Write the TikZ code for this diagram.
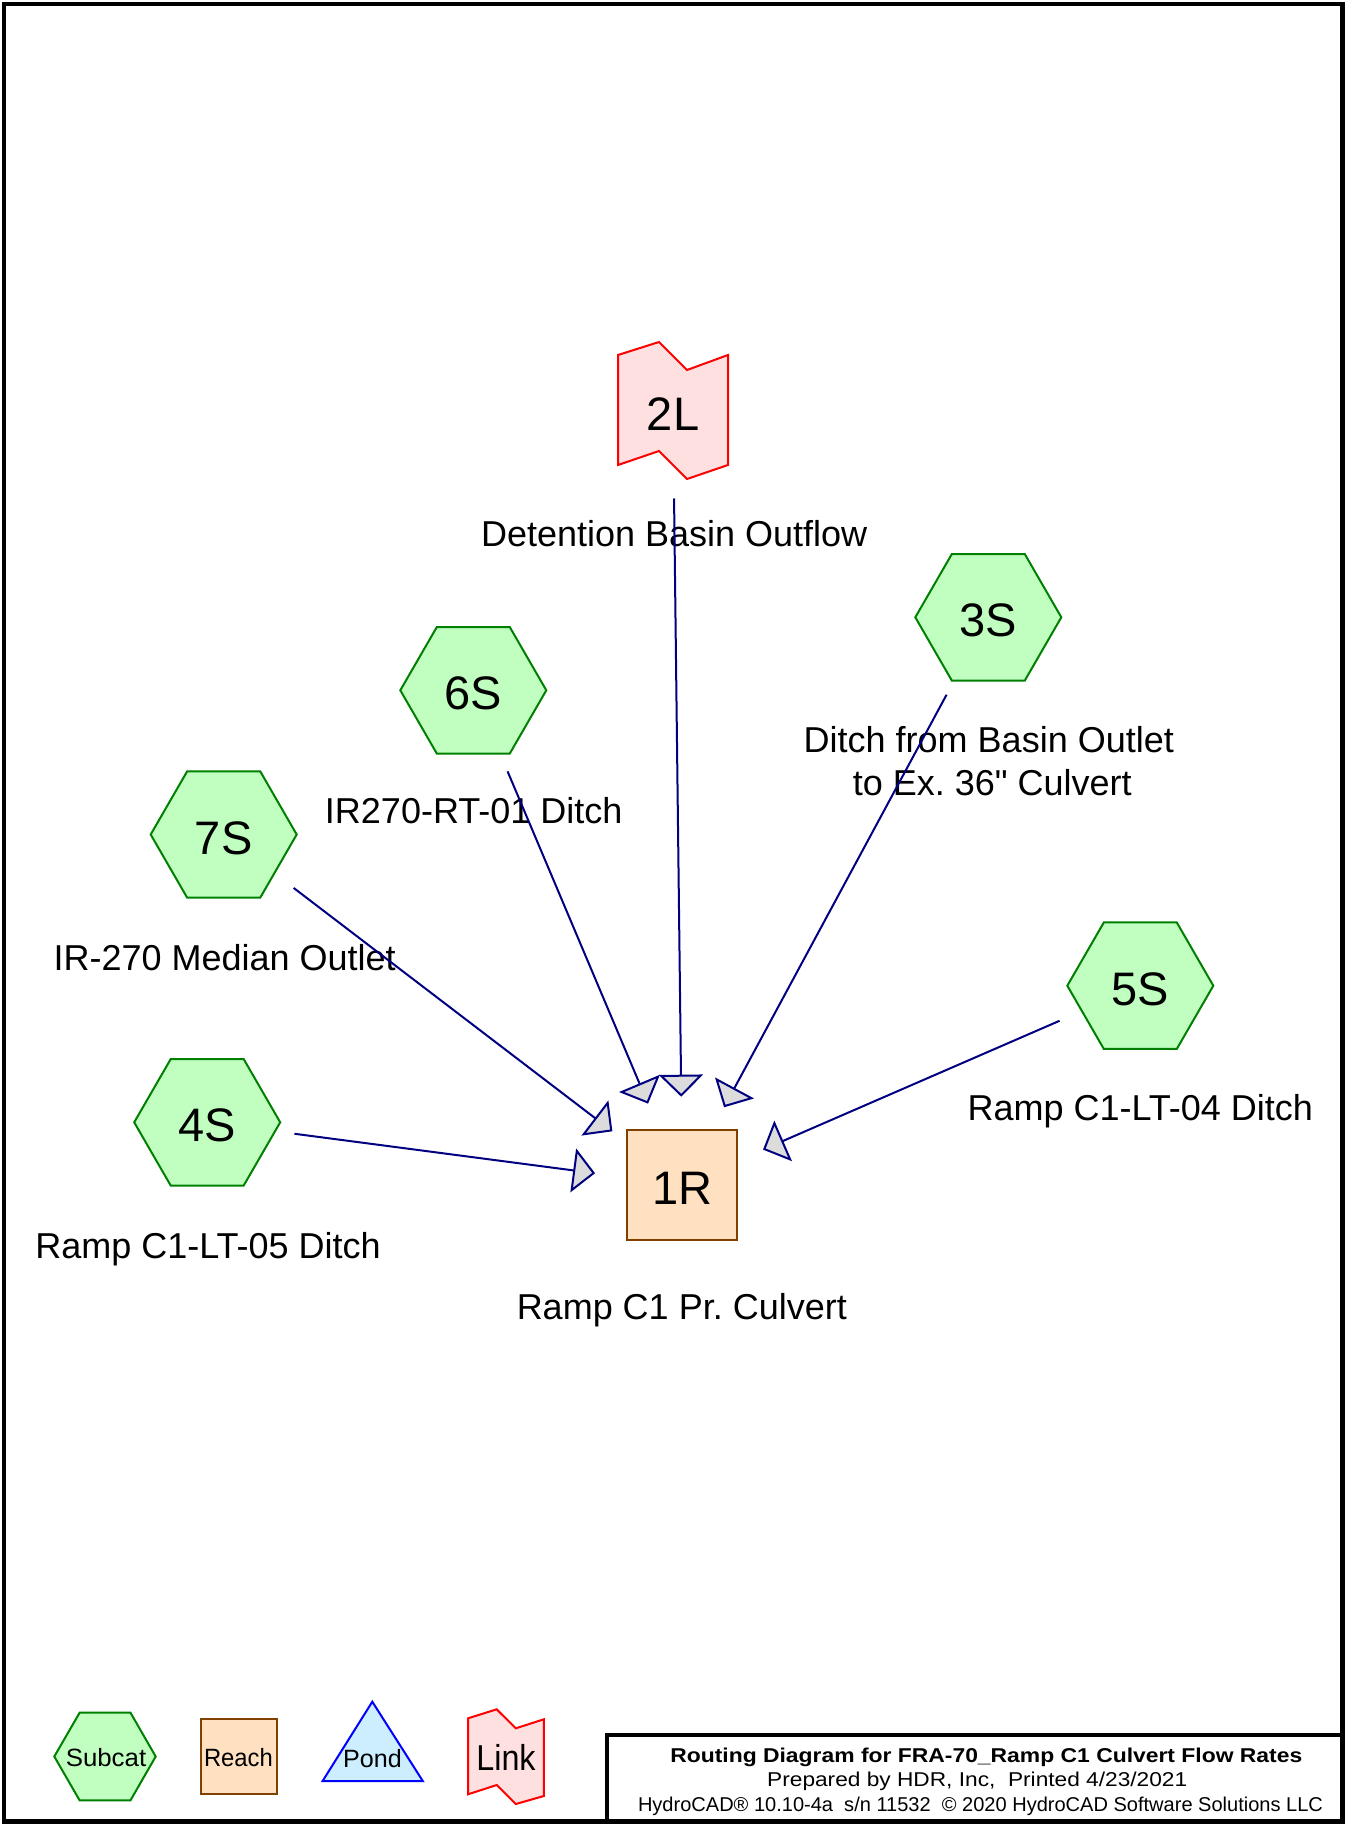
\documentclass[tikz,border=0pt]{standalone}
\usepackage{fontspec}
\setmainfont{Liberation Sans}
\newfontfamily\nomapfont{Liberation Sans}[Ligatures=ResetAll]
\usetikzlibrary{shapes.geometric,arrows.meta}
\definecolor{subfill}{HTML}{C0FFC0}
\definecolor{subdraw}{HTML}{008000}
\definecolor{reachfill}{HTML}{FFE0C0}
\definecolor{reachdraw}{HTML}{804000}
\definecolor{linkfill}{HTML}{FFE0E0}
\definecolor{linkdraw}{HTML}{FF0000}
\definecolor{pondfill}{HTML}{CCEEFF}
\definecolor{ponddraw}{HTML}{0000FF}
\definecolor{flowcol}{HTML}{000080}
\definecolor{arrowfill}{HTML}{DCDCDC}
\frenchspacing
\begin{document}
\begin{tikzpicture}[x=1pt,y=-1pt,
  subcat/.style={regular polygon, regular polygon sides=6, minimum size=146pt, inner sep=0pt,
    draw=subdraw, fill=subfill, line width=2pt, font=\fontsize{47}{47}\selectfont,
    text height=39pt, text depth=0pt},
  reachbox/.style={rectangle, minimum size=110pt, inner sep=0pt, draw=reachdraw, fill=reachfill,
    line width=2pt, font=\fontsize{47}{47}\selectfont, text height=39pt, text depth=0pt},
  nodetext/.style={inner sep=0pt, font=\fontsize{47}{47}\selectfont, text height=39pt, text depth=0pt},
  lbl/.style={anchor=base, inner sep=0pt, font=\fontsize{36}{36}\selectfont},
  legtext/.style={anchor=base, inner sep=0pt},
  titletext/.style={anchor=base, inner sep=0pt},
  flow/.style={draw=flowcol, line width=2pt, shorten <=88pt, shorten >=88pt,
    -{Triangle[length=22pt,width=44pt,fill=arrowfill]}},
  linkshape/.style={draw=linkdraw, fill=linkfill, line width=2pt, line join=miter}
]
\useasboundingbox (0,0) rectangle (1345,1825);
\fill[white] (0,0) rectangle (1345,1825);

% frame and title block
\draw[line width=4.5pt] (4,4) rectangle (1342.5,1821.5);
\draw[line width=4pt] (606.5,1821.5) -- (606.5,1734.5) -- (1342.5,1734.5);

% link 2L
\draw[linkshape] (618,355) -- (659,342) -- (687,370) -- (728,355) -- (728,465)
  -- (687,479) -- (659,451) -- (618,465) -- cycle;
\node[nodetext] (l2) at (673,410.5) {2L};
\node[lbl] (l2lab) at (674.2,546.7) {Detention Basin Outflow};

% subcatchments
\node[subcat] (s3) at (988.3,617.3) {3S};
\node[lbl] (s3lab) at (988.8,752.3) {Ditch from Basin Outlet};
\node[lbl] (s3lab2) at (992.2,795) {to Ex. 36{\nomapfont"} Culvert};

\node[subcat] (s6) at (473.3,690.3) {6S};
\node[lbl] (s6lab) at (473.7,823.3) {IR270-RT-01 Ditch};

\node[subcat] (s7) at (223.7,834.5) {7S};
\node[lbl] (s7lab) at (224.7,970) {IR-270 Median Outlet};

\node[subcat] (s5) at (1140.3,985.7) {5S};
\node[lbl] (s5lab) at (1140.3,1120.7) {Ramp C1-LT-04 Ditch};

\node[subcat] (s4) at (207.2,1122.3) {4S};
\node[lbl] (s4lab) at (208,1258.3) {Ramp C1-LT-05 Ditch};

% reach
\node[reachbox] (r1) at (682.3,1184.7) {1R};
\node[lbl] (r1lab) at (681.8,1319.5) {Ramp C1 Pr. Culvert};

% connectors
\draw[flow] (l2.center) -- (r1.center);
\draw[flow] (s3.center) -- (r1.center);
\draw[flow] (s6.center) -- (r1.center);
\draw[flow] (s7.center) -- (r1.center);
\draw[flow] (s5.center) -- (r1.center);
\draw[flow] (s4.center) -- (r1.center);

% legend
\draw[draw=subdraw, fill=subfill, line width=2pt] (54.3,1756.5) -- (79.6,1712.7) -- (130.5,1712.7)
  -- (155.7,1756.5) -- (130.5,1800.3) -- (79.6,1800.3) -- cycle;
\node[legtext] (legsub) at (106,1766.7) {\resizebox{80.4pt}{\height}{\fontsize{25}{25}\selectfont Subcat}};
\draw[draw=reachdraw, fill=reachfill, line width=2pt] (200.9,1719) rectangle (276.7,1794.3);
\node[legtext] (legreach) at (238.4,1766) {\resizebox{68.8pt}{\height}{\fontsize{25}{25}\selectfont Reach}};
\draw[draw=ponddraw, fill=pondfill, line width=2pt, line join=miter] (372.3,1701.7) -- (422.8,1781) -- (322.6,1781) -- cycle;
\node[legtext] (legpond) at (372.5,1767.3) {\resizebox{58.6pt}{\height}{\fontsize{25}{25}\selectfont Pond}};
\draw[linkshape] (468,1718.3) -- (496.7,1709.3) -- (515.8,1728.3) -- (543.8,1719.3) -- (543.8,1796)
  -- (515.8,1804) -- (496.7,1785) -- (468,1794.3) -- cycle;
\node[legtext] (leglink) at (506,1770) {\resizebox{59.3pt}{\height}{\fontsize{36}{36}\selectfont Link}};

% title text
\node[titletext] (t1) at (986.3,1762.3) {\resizebox{631.9pt}{\height}{\fontsize{20}{20}\selectfont\bfseries Routing Diagram for FRA-70\_Ramp C1 Culvert Flow Rates}};
\node[titletext] (t2) at (977.2,1786.7) {\resizebox{420pt}{\height}{\fontsize{20}{20}\selectfont Prepared by HDR, Inc,\ \ Printed 4/23/2021}};
\node[titletext] (t3) at (980.5,1811) {\resizebox{685pt}{\height}{\fontsize{20}{20}\selectfont HydroCAD® 10.10-4a\ \ s/n 11532\ \ © 2020 HydroCAD Software Solutions LLC}};
\end{tikzpicture}
\end{document}
